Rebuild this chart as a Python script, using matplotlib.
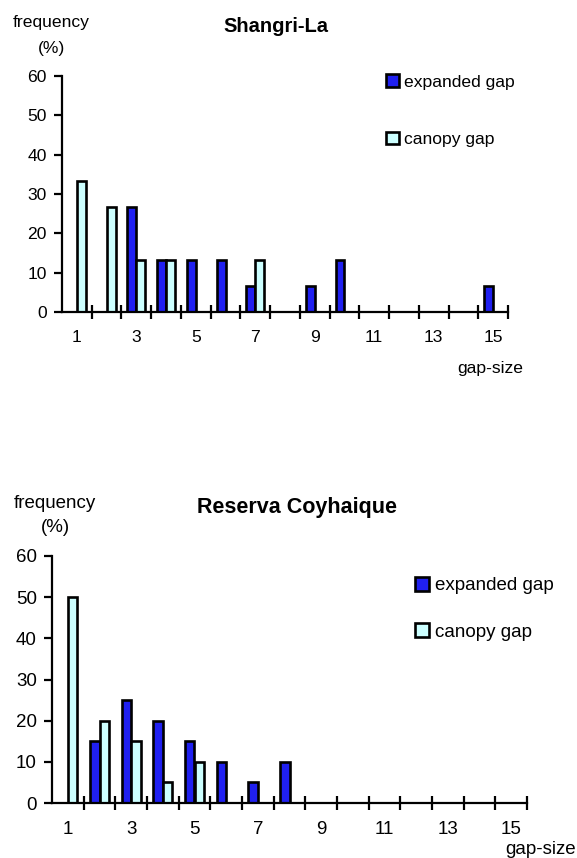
import numpy as np
import matplotlib
matplotlib.use('Agg')
import matplotlib.pyplot as plt

plt.rcParams['font.family'] = ['Liberation Sans', 'DejaVu Sans']

# data (frequency in %)
gap_size = np.arange(1, 16)
xlabels = ['1', '3', '5', '7', '9', '11', '13', '15']

shangri_expanded = [0, 0, 26.7, 13.3, 13.3, 13.3, 6.7, 0, 6.7, 13.3, 0, 0, 0, 0, 6.7]
shangri_canopy = [33.3, 26.7, 13.3, 13.3, 0, 0, 13.3, 0, 0, 0, 0, 0, 0, 0, 0]

coyh_expanded = [0, 15, 25, 20, 15, 10, 5, 10, 0, 0, 0, 0, 0, 0, 0]
coyh_canopy = [50, 20, 15, 5, 10, 0, 0, 0, 0, 0, 0, 0, 0, 0, 0]

blue = '#2020F0'
cyan = '#CCFFFF'

W, H = 577, 858
fig = plt.figure(figsize=(W / 100, H / 100), dpi=100)


def px(x, y):
    return x / W, 1 - y / H


def panel(rect, expanded, canopy, fs, leg_xy, leg_space):
    ax = fig.add_axes(rect)
    exp = np.array(expanded)
    can = np.array(canopy)
    w = 0.3
    m = exp > 0
    ax.bar(gap_size[m] - w / 2, exp[m], width=w, color=blue, edgecolor='black',
           linewidth=1.9, label='expanded gap')
    m = can > 0
    ax.bar(gap_size[m] + w / 2, can[m], width=w, color=cyan, edgecolor='black',
           linewidth=1.9, label='canopy gap')
    ax.set_xlim(0.5, 15.5)
    ax.set_ylim(0, 60)
    ax.set_yticks(range(0, 61, 10))
    ax.set_xticks(gap_size[::2])
    ax.set_xticklabels(xlabels)
    ax.set_xticks(np.arange(1.5, 15.6, 1), minor=True)
    ax.tick_params(axis='x', which='major', length=0, pad=13, labelsize=fs)
    ax.tick_params(axis='x', which='minor', direction='inout', length=10, width=1.6)
    ax.tick_params(axis='y', direction='out', length=6, width=1.6, pad=5, labelsize=fs)
    for s in ['top', 'right']:
        ax.spines[s].set_visible(False)
    for s in ['left', 'bottom']:
        ax.spines[s].set_linewidth(1.6)
    ax.legend(loc='upper left', bbox_to_anchor=px(*leg_xy), bbox_transform=fig.transFigure,
              frameon=False, fontsize=fs, handlelength=0.75, handleheight=0.75,
              handletextpad=0.3, labelspacing=leg_space, borderpad=0, borderaxespad=0)
    return ax


panel([62 / W, 1 - 312 / H, (508 - 62) / W, (312 - 76) / H],
      shangri_expanded, shangri_canopy, 12.6, (386, 74), 2.4)
panel([52 / W, 1 - 803 / H, (527 - 52) / W, (803 - 556) / H],
      coyh_expanded, coyh_canopy, 13.5, (415, 577), 1.55)

# titles and axis captions
fig.text(*px(276, 26), 'Shangri-La', fontsize=14.5, fontweight='bold', ha='center', va='center')
fig.text(*px(51, 23), 'frequency', fontsize=12.6, ha='center', va='center')
fig.text(*px(52, 48), '(%)', fontsize=12.6, ha='center', va='center')
fig.text(*px(490, 368), 'gap-size', fontsize=12.6, ha='center', va='center')

fig.text(*px(297, 508), 'Reserva Coyhaique', fontsize=15.5, fontweight='bold', ha='center', va='center')
fig.text(*px(55, 504), 'frequency', fontsize=13.5, ha='center', va='center')
fig.text(*px(55, 528), '(%)', fontsize=13.5, ha='center', va='center')
fig.text(*px(541, 850), 'gap-size', fontsize=13.5, ha='center', va='center')

fig.savefig('out.png', dpi=100)
